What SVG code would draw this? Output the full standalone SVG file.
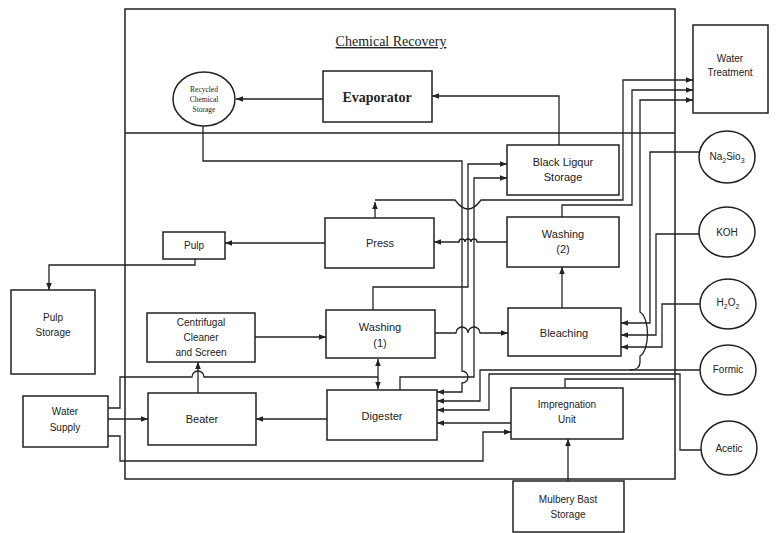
<svg xmlns="http://www.w3.org/2000/svg" width="783" height="533" viewBox="0 0 783 533">
<style>
.b{fill:#fff;stroke:#222;stroke-width:1.5}
.c{fill:none;stroke:#222;stroke-width:1.3}
.t{font-family:"Liberation Sans",Arial,sans-serif;font-size:11px;fill:#222;text-anchor:middle}
.s{font-size:10px}
.xs{font-family:"Liberation Serif",serif;font-size:7.5px}
</style>
<defs>
<marker id="ah" viewBox="0 0 10 10" refX="10" refY="5" markerWidth="7" markerHeight="7" markerUnits="userSpaceOnUse" orient="auto-start-reverse"><path d="M0,1 L10,5 L0,9 z" fill="#222"/></marker>
</defs>
<rect width="783" height="533" fill="#fff"/>
<g id="frame">
<rect x="125" y="9" width="550" height="470" fill="none" stroke="#222" stroke-width="1.5"/>
<path d="M125,133 H675" class="c"/>
<text x="391" y="46" font-family="Liberation Serif,serif" font-size="14" fill="#222" text-anchor="middle" text-decoration="underline">Chemical Recovery</text>
</g>
<g id="connectors" class="c">
<path d="M323,99 H236" marker-end="url(#ah)"/>
<path d="M559,145 V96 H432" marker-end="url(#ah)"/>
<path d="M203,126 V161 H462 V371 a6,6 0 0 1 0,12 V392 H437" marker-end="url(#ah)"/>
<path d="M373,310 V287 H468 V164 H507" marker-end="url(#ah)"/>
<path d="M400,390 V377 H474 V178 H507" marker-end="url(#ah)"/>
<path d="M375,218 V202" marker-end="url(#ah)"/>
<path d="M375,200 H455 Q468,218 481,200 H623 V80 H693" marker-end="url(#ah)"/>
<path d="M562,217 V205 H632 V90 H693" marker-end="url(#ah)"/>
<path d="M630,370 Q640,370 640,362 V356 C650,350 650,318 640,312 V100 H693" marker-end="url(#ah)"/>
<path d="M699,152 H650 V323 H621" marker-end="url(#ah)"/>
<path d="M699,234 H656 V335 H621" marker-end="url(#ah)"/>
<path d="M700,304 H662 V347 H621" marker-end="url(#ah)"/>
<path d="M700,370 H480 V401 H437" marker-end="url(#ah)"/>
<path d="M702,450 H680 V374 H489 V410 H437" marker-end="url(#ah)"/>
<path d="M565,388 V379 H675"/>
<path d="M511,423 H437" marker-end="url(#ah)"/>
<path d="M568,481 V439" marker-end="url(#ah)"/>
<path d="M108,408 H120 V377 H192 a6,6 0 0 1 12,0 H378"/>
<path d="M108,419 H148" marker-end="url(#ah)"/>
<path d="M108,436 H120 V461 H483 V432 H511" marker-end="url(#ah)"/>
<path d="M198,393 V362" marker-end="url(#ah)"/>
<path d="M327,419 H256" marker-end="url(#ah)"/>
<path d="M255,337 H326" marker-end="url(#ah)"/>
<path d="M378,389 V359" marker-start="url(#ah)" marker-end="url(#ah)"/>
<path d="M435,333 H456 a6,6 0 0 1 12,0 a6,6 0 0 1 12,0 H508" marker-end="url(#ah)"/>
<path d="M507,242 H477 a3,3 0 0 0 -6,0 a3,3 0 0 0 -6,0 a3,3 0 0 0 -6,0 H434" marker-end="url(#ah)"/>
<path d="M195,259 V265 H49 V290" marker-end="url(#ah)"/>
<path d="M325,243 H225" marker-end="url(#ah)"/>
<path d="M562,308 V267" marker-end="url(#ah)"/>
</g>
<g id="evaporator"><rect class="b" x="323" y="71" width="109" height="51"/><text class="t" x="377" y="102" font-family="Liberation Serif,serif" font-size="14" font-weight="bold" style="font-family:'Liberation Serif',serif;font-size:14px">Evaporator</text></g>
<g id="recycled"><ellipse class="b" cx="204" cy="99" rx="31" ry="27"/><text class="t xs" x="204" y="92">Recycled</text><text class="t xs" x="204" y="102">Chemical</text><text class="t xs" x="204" y="112">Storage</text></g>
<g id="water-treatment"><rect class="b" x="693" y="25" width="75" height="88"/><text class="t s" x="730" y="62">Water</text><text class="t s" x="730" y="76">Treatment</text></g>
<g id="black-liquor"><rect class="b" x="507" y="145" width="112" height="50"/><text class="t" x="563" y="166">Black Ligqur</text><text class="t" x="563" y="181">Storage</text></g>
<g id="washing2"><rect class="b" x="507" y="217" width="112" height="50"/><text class="t" x="563" y="238">Washing</text><text class="t" x="563" y="253">(2)</text></g>
<g id="press"><rect class="b" x="325" y="218" width="109" height="50"/><text class="t" x="380" y="247">Press</text></g>
<g id="pulp"><rect class="b" x="163" y="232" width="62" height="27"/><text class="t s" x="194" y="249">Pulp</text></g>
<g id="pulp-storage"><rect class="b" x="11" y="290" width="84" height="84"/><text class="t s" x="53" y="321">Pulp</text><text class="t s" x="53" y="336">Storage</text></g>
<g id="centrifugal"><rect class="b" x="147" y="313" width="108" height="49"/><text class="t s" x="201" y="326">Centrifugal</text><text class="t s" x="201" y="341">Cleaner</text><text class="t s" x="201" y="356">and Screen</text></g>
<g id="washing1"><rect class="b" x="326" y="310" width="109" height="48"/><text class="t" x="380" y="331">Washing</text><text class="t" x="380" y="347">(1)</text></g>
<g id="bleaching"><rect class="b" x="508" y="308" width="113" height="48"/><text class="t" x="564" y="337">Bleaching</text></g>
<g id="digester"><rect class="b" x="327" y="390" width="110" height="50"/><text class="t" x="382" y="420">Digester</text></g>
<g id="beater"><rect class="b" x="148" y="393" width="108" height="52"/><text class="t" x="202" y="423">Beater</text></g>
<g id="water-supply"><rect class="b" x="23" y="396" width="85" height="51"/><text class="t s" x="65" y="415">Water</text><text class="t s" x="65" y="431">Supply</text></g>
<g id="impregnation"><rect class="b" x="511" y="388" width="112" height="51"/><text class="t s" x="567" y="408">Impregnation</text><text class="t s" x="567" y="423">Unit</text></g>
<g id="mulberry"><rect class="b" x="513" y="481" width="111" height="51"/><text class="t s" x="568" y="503">Mulbery Bast</text><text class="t s" x="568" y="518">Storage</text></g>
<g id="na2sio3"><ellipse class="b" cx="727" cy="157" rx="28" ry="26"/><text class="t s" x="727" y="160">Na<tspan font-size="7" dy="3">2</tspan><tspan dy="-3">Sio</tspan><tspan font-size="7" dy="3">3</tspan></text></g>
<g id="koh"><ellipse class="b" cx="727" cy="232" rx="28" ry="25"/><text class="t s" x="727" y="236">KOH</text></g>
<g id="h2o2"><ellipse class="b" cx="728" cy="304" rx="28" ry="25"/><text class="t s" x="728" y="306">H<tspan font-size="7" dy="3">2</tspan><tspan dy="-3">O</tspan><tspan font-size="7" dy="3">2</tspan></text></g>
<g id="formic"><ellipse class="b" cx="728" cy="370" rx="28" ry="25"/><text class="t s" x="728" y="373">Formic</text></g>
<g id="acetic"><ellipse class="b" cx="729" cy="448" rx="28" ry="27"/><text class="t s" x="729" y="452">Acetic</text></g>
</svg>
